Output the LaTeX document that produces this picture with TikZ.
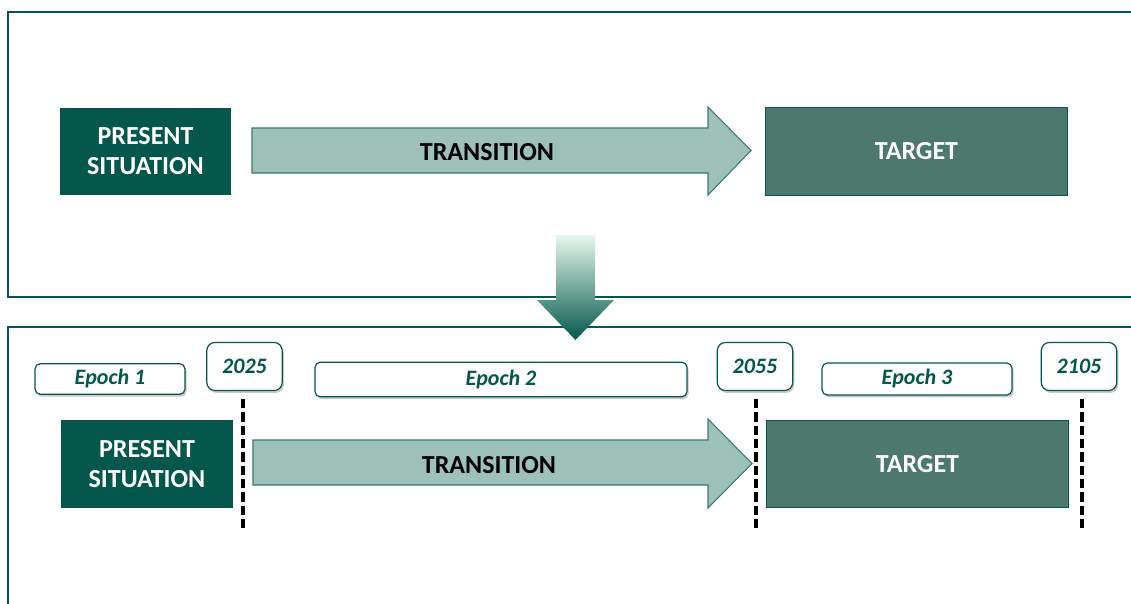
\documentclass[tikz,border=0pt]{standalone}
\usepackage{fontspec}
\setmainfont{Carlito}
\usetikzlibrary{shadows,positioning}
\definecolor{deep}{HTML}{04574A}
\definecolor{pale}{HTML}{9DC0B8}
\definecolor{mid}{HTML}{4C786D}
\definecolor{rim}{HTML}{3E7A6C}
\definecolor{mint}{HTML}{E6F8EE}

\begin{document}
\begin{tikzpicture}[x=0.75pt, y=-0.75pt,
      frame/.style={draw=deep, line width=1.5pt},
      box/.style={align=center, font=\bfseries\fontsize{19.5}{22.5}\selectfont,
                  minimum height=65.5pt, inner sep=0pt},
      now/.style={box, fill=deep, text=white, minimum width=128.5pt},
      goal/.style={box, fill=mid, draw=deep, line width=0.8pt, text=white, minimum width=227pt},
      move/.style={fill=pale, draw=rim, line width=0.8pt},
      tag/.style={draw=deep, line width=0.9pt, fill=white, text=deep, inner sep=0pt,
                  font=\bfseries\itshape\fontsize{16.5}{19}\selectfont,
                  drop shadow={shadow xshift=1.2pt, shadow yshift=-1.8pt, opacity=0.3, fill=black!70}},
      epoch/.style={tag, rounded corners=4pt, minimum height=23pt},
      year/.style={tag, rounded corners=6pt, minimum width=56.5pt, minimum height=36pt},
      cut/.style={line width=3pt, dash pattern=on 6.8pt off 3.2pt, shorten <=6pt}]
    \useasboundingbox (0,0) rectangle (1131,603);

    % two panels, cut off at the right and bottom
    \draw[frame] (8,12) rectangle (1145,297);
    \draw[frame] (8,327) rectangle (1145,640);

    % upper panel
    \node[now] (pres) at (145.5,151.5) {PRESENT\\SITUATION};
    \draw[move] (252,128) -- (708,128) -- (708,107) -- (751,150.5) -- (708,195) -- (708,173) -- (252,173) -- cycle;
    \node[box] (trans) at (487,152) {TRANSITION};
    \node[goal] (target) at (916.5,151.5) {TARGET};

    % arrow between the panels
    \shade[top color=mint, bottom color=deep] (556,235) -- (595,235) -- (595,300) -- (614,300)
      -- (575.5,340) -- (537,300) -- (556,300) -- cycle;

    % lower panel: epochs and milestones
    \node[epoch, minimum width=112.5pt] (ep1) at (110,379) {Epoch 1};
    \node[epoch, minimum width=279pt, minimum height=26pt] (ep2) at (501,379.5) {Epoch 2};
    \node[epoch, minimum width=142.5pt, minimum height=24pt] (ep3) at (917,379) {Epoch 3};
    \node[year] (y1) at (244.5,366.5) {2025};
    \node[year] (y2) at (755,366.5) {2055};
    \node[year] (y3) at (1079,366.5) {2105};

    \node[now] (pres2) at (147,464) {PRESENT\\SITUATION};
    \draw[move] (253,440) -- (708,440) -- (708,419) -- (752,463.5) -- (708,508) -- (708,485) -- (253,485) -- cycle;
    \node[box] (trans2) at (489,465) {TRANSITION};
    \node[goal] (target2) at (917.5,464) {TARGET};

    \draw[cut] ([xshift=-1.5pt]y1.south) -- +(0,141);
    \draw[cut] ([xshift=0.8pt]y2.south) -- +(0,141);
    \draw[cut] ([xshift=2.2pt]y3.south) -- +(0,139);
  \end{tikzpicture}
\end{document}
